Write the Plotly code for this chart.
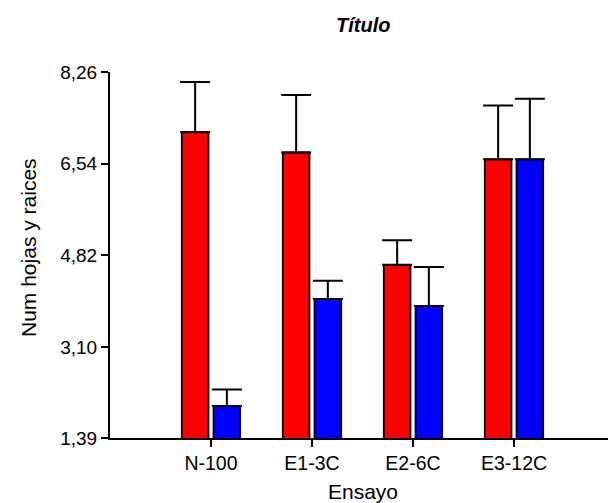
import plotly.graph_objects as go

categories = ["N-100", "E1-3C", "E2-6C", "E3-12C"]
red_values = [7.13, 6.75, 4.64, 6.62]
red_errors = [0.94, 1.08, 0.46, 1.01]
blue_values = [1.99, 4.00, 3.87, 6.62]
blue_errors = [0.31, 0.34, 0.73, 1.14]
y_tick_values = [1.39, 3.10, 4.82, 6.54, 8.26]
y_tick_labels = ["1,39", "3,10", "4,82", "6,54", "8,26"]

title_text = "Título"
x_title = "Ensayo"
y_title = "Num hojas y raices"

FONT = "Liberation Sans, Arial, sans-serif"
xpos = list(range(len(categories)))

def err(vals):
    return dict(type="data", array=vals, arrayminus=[0] * len(vals), symmetric=False,
                color="black", thickness=2, width=15, visible=True)

fig = go.Figure()
fig.add_trace(go.Bar(x=xpos, y=red_values, marker=dict(color="#FF0000", line=dict(color="black", width=1.8)),
                     error_y=err(red_errors), showlegend=False))
fig.add_trace(go.Bar(x=xpos, y=blue_values, marker=dict(color="#0000FF", line=dict(color="black", width=1.8)),
                     error_y=err(blue_errors), showlegend=False))

# page has an 8px body margin; compensate so the plot area lands where the reference has it
fig.update_layout(
    width=608, height=495,
    margin=dict(l=102, r=1, t=64, b=65),
    paper_bgcolor="white", plot_bgcolor="white",
    barmode="group", bargap=0.372, bargroupgap=0.158,
    font=dict(family=FONT, color="black"),
    showlegend=False,
)
fig.update_xaxes(
    range=[-1, 4], tickmode="array", tickvals=xpos + [len(categories)],
    ticktext=categories + [""], ticks="outside", ticklen=7, tickwidth=2, tickcolor="black",
    showline=True, linecolor="black", linewidth=2, showgrid=False, zeroline=False,
    tickfont=dict(size=19.5, family=FONT, color="black"),
)
fig.update_yaxes(
    range=[1.39, 8.26], tickmode="array", tickvals=y_tick_values, ticktext=y_tick_labels,
    ticks="outside", ticklen=7, tickwidth=2, tickcolor="black",
    showline=True, linecolor="black", linewidth=2, showgrid=False, zeroline=False,
    tickfont=dict(size=19, family=FONT, color="black"),
)
fig.add_annotation(text=title_text, xref="paper", yref="paper", x=0.5, y=0, xanchor="center", yanchor="middle",
                   yshift=413, showarrow=False,
                   font=dict(size=20, family=FONT, color="black", weight="bold", style="italic"))
fig.add_annotation(text=x_title, xref="paper", yref="paper", x=0.5, y=0, xanchor="center", yanchor="middle",
                   yshift=-53, showarrow=False,
                   font=dict(size=21, family=FONT, color="black"))
fig.add_annotation(text=y_title, xref="paper", yref="paper", x=0, y=0.5, xanchor="center", yanchor="middle",
                   xshift=-82, yshift=7, textangle=-90, showarrow=False,
                   font=dict(size=21, family=FONT, color="black"))

fig.write_html("out.html")
